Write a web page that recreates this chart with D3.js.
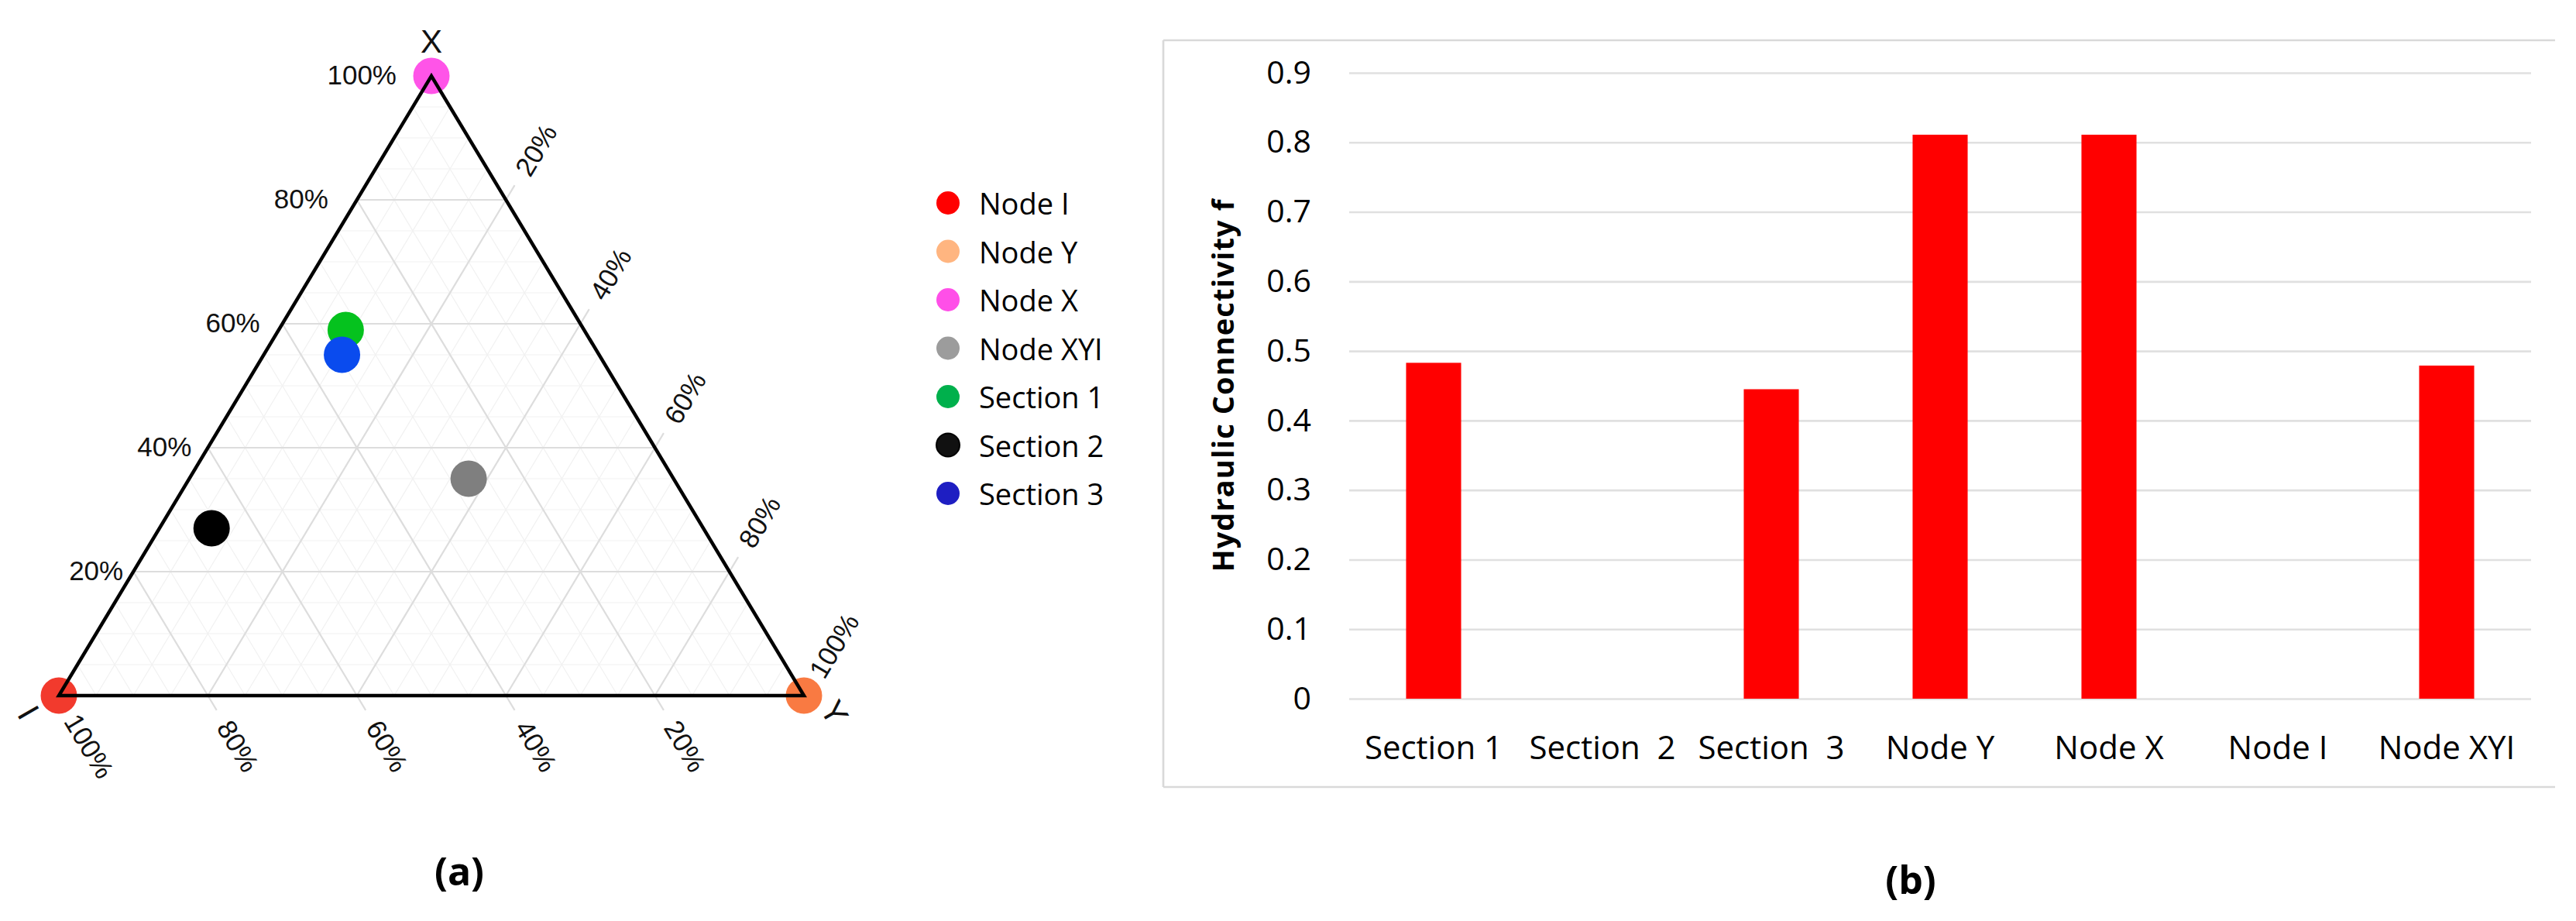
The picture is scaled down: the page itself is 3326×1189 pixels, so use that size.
<!DOCTYPE html>
<html><head><meta charset="utf-8">
<script src="https://cdn.jsdelivr.net/npm/d3@7"></script>
<style>
html,body{margin:0;padding:0;background:#fff;}
svg{display:block;}
</style></head><body>
<svg id="c" width="3326" height="1189"></svg>
<script>
// ---------------- Data ----------------
// Ternary diagram (a): compositions (X, Y, I fractions)
const ternNames = ["Node I","Node Y","Node X","Node XYI","Section 1","Section 2","Section 3"];
const ternX = [0, 0, 1, 0.35, 0.59, 0.27, 0.55];
const ternY = [0, 1, 0, 0.375, 0.09, 0.07, 0.105];
const ternI = [1, 0, 0, 0.275, 0.32, 0.66, 0.345];
const pointColors = ["#F23A2D","#F97A42","#FF54E8","#7F7F7F","#05C21E","#000000","#0A4BEE"];
const legendColors = ["#FF0000","#FFB580","#FF4FE8","#9C9C9C","#00B04C","#111111","#1E1EC2"];
const ternTicks = [0.2, 0.4, 0.6, 0.8, 1.0];
const ternTickLabels = ["20%","40%","60%","80%","100%"];
const ternAxisTitles = ["X","I","Y"];

// Bar chart (b)
const barCategories = ["Section 1","Section  2","Section  3","Node Y","Node X","Node I","Node XYI"];
const barValues = [0.483, 0, 0.445, 0.811, 0.811, 0, 0.479];
const yTicks = [0, 0.1, 0.2, 0.3, 0.4, 0.5, 0.6, 0.7, 0.8, 0.9];
const yTickLabels = ["0","0.1","0.2","0.3","0.4","0.5","0.6","0.7","0.8","0.9"];
const yTitle = "Hydraulic Connectivity f";
const captions = ["(a)","(b)"];

// ---------------- Setup ----------------
const svg = d3.select("#c");
svg.append("rect").attr("width",3326).attr("height",1189).attr("fill","#fff");

// ---------------- Ternary ----------------
const horiz = d3.scaleLinear().domain([0,1]).range([76,1038]);
const vert = d3.scaleLinear().domain([0,1]).range([898,98]);
function tp(X,Y,I){ const s=X+Y+I; X/=s; Y/=s; return [horiz(Y + X/2), vert(X)]; }

const gT = svg.append("g");
const BL = tp(0,0,1), BR = tp(0,1,0), TOP = tp(1,0,0);
const sideLen = Math.hypot(TOP[0]-BL[0], TOP[1]-BL[1]);
const upDir = [(TOP[0]-BL[0])/sideLen, (TOP[1]-BL[1])/sideLen];   // up-right
const downDir = [(BR[0]-TOP[0])/sideLen, (BR[1]-TOP[1])/sideLen]; // down-right

function gridLines(vals, color, width){
  vals.forEach(v=>{
    const segs = [
      [tp(v,0,1-v), tp(v,1-v,0)],
      [tp(0,v,1-v), tp(1-v,v,0)],
      [tp(0,1-v,v), tp(1-v,0,v)]
    ];
    segs.forEach(s=>{
      gT.append("line").attr("x1",s[0][0]).attr("y1",s[0][1]).attr("x2",s[1][0]).attr("y2",s[1][1])
        .attr("stroke",color).attr("stroke-width",width);
    });
  });
}
const minor = d3.range(1,20).map(k=>k*0.05).filter(v=>Math.abs(v*5-Math.round(v*5))>1e-6);
gridLines(minor, "#f1f1f1", 1.2);
gridLines([0.2,0.4,0.6,0.8], "#dddddd", 2.2);

// outward ticks (bottom and right)
ternTicks.slice(0,4).forEach(v=>{
  const pb = tp(0,1-v,v);
  gT.append("line").attr("x1",pb[0]).attr("y1",pb[1]).attr("x2",pb[0]+downDir[0]*22).attr("y2",pb[1]+downDir[1]*22)
    .attr("stroke","#dddddd").attr("stroke-width",2.2);
  const pr = tp(1-v,v,0);
  gT.append("line").attr("x1",pr[0]).attr("y1",pr[1]).attr("x2",pr[0]+upDir[0]*22).attr("y2",pr[1]+upDir[1]*22)
    .attr("stroke","#dddddd").attr("stroke-width",2.2);
});

// points
ternNames.forEach((n,i)=>{
  const p = tp(ternX[i], ternY[i], ternI[i]);
  gT.append("circle").attr("cx",p[0]).attr("cy",p[1]).attr("r",23.5).attr("fill",pointColors[i]);
});

// border
gT.append("path").attr("d",`M${BL[0]},${BL[1]}L${BR[0]},${BR[1]}L${TOP[0]},${TOP[1]}Z`)
  .attr("fill","none").attr("stroke","#000").attr("stroke-width",4.5).attr("stroke-linejoin","miter");

const tFont = "'Liberation Sans', Arial, sans-serif";
// left labels (X axis)
ternTicks.forEach((v,k)=>{
  const p = tp(v,0,1-v);
  gT.append("text").attr("x",p[0]-(5+40*v)).attr("y",p[1]-2)
    .attr("text-anchor","end").attr("dominant-baseline","central")
    .attr("font-family",tFont).attr("font-size",35).attr("fill","#111").text(ternTickLabels[k]);
});
// bottom labels (I axis)
ternTicks.forEach((v,k)=>{
  const p = tp(0,1-v,v);
  const cx = p[0]+downDir[0]*76, cy = p[1]+downDir[1]*76;
  const ang = Math.atan2(downDir[1],downDir[0])*180/Math.PI;
  gT.append("text").attr("transform",`translate(${cx},${cy}) rotate(${ang})`)
    .attr("text-anchor","middle").attr("dominant-baseline","central")
    .attr("font-family",tFont).attr("font-size",35).attr("fill","#111").text(ternTickLabels[k]);
});
// right labels (Y axis)
ternTicks.forEach((v,k)=>{
  const p = tp(1-v,v,0);
  const cx = p[0]+upDir[0]*75, cy = p[1]+upDir[1]*75;
  const ang = Math.atan2(upDir[1],upDir[0])*180/Math.PI;
  gT.append("text").attr("transform",`translate(${cx},${cy}) rotate(${ang})`)
    .attr("text-anchor","middle").attr("dominant-baseline","central")
    .attr("font-family",tFont).attr("font-size",35).attr("fill","#111").text(ternTickLabels[k]);
});
// axis titles
const centroid = [(BL[0]+BR[0]+TOP[0])/3, (BL[1]+BR[1]+TOP[1])/3];
const vtx = [TOP, BL, BR];
vtx.forEach((v,k)=>{
  const dx = v[0]-centroid[0], dy = v[1]-centroid[1], L = Math.hypot(dx,dy);
  const cx = v[0]+dx/L*45, cy = v[1]+dy/L*45;
  const rot = k===0 ? 0 : 60;
  gT.append("text").attr("transform",`translate(${cx},${cy}) rotate(${rot})`)
    .attr("text-anchor","middle").attr("dominant-baseline","central")
    .attr("font-family",tFont).attr("font-size",42).attr("fill","#111").text(ternAxisTitles[k]);
});

// legend
const lFont = "'Open Sans', sans-serif";
const gL = svg.append("g");
ternNames.forEach((n,i)=>{
  const y = 262 + i*62.5;
  gL.append("circle").attr("cx",1224).attr("cy",y).attr("r",15).attr("fill",legendColors[i])
    .attr("stroke", i===5 ? "#000" : "none").attr("stroke-width",2);
  gL.append("text").attr("x",1264).attr("y",y).attr("dominant-baseline","central")
    .attr("font-family",lFont).attr("font-size",38).attr("fill","#000").text(n);
});

// ---------------- Bar chart ----------------
const gB = svg.append("g");
const frameC = "#d9d9d9";
gB.append("line").attr("x1",1502).attr("y1",52).attr("x2",3299).attr("y2",52).attr("stroke",frameC).attr("stroke-width",2.7);
gB.append("line").attr("x1",1502).attr("y1",1016).attr("x2",3299).attr("y2",1016).attr("stroke",frameC).attr("stroke-width",2.7);
gB.append("line").attr("x1",1502).attr("y1",52).attr("x2",1502).attr("y2",1016).attr("stroke",frameC).attr("stroke-width",2.7);

const xB = d3.scaleBand().domain(barCategories).range([1742,3268]).paddingInner(0.674).paddingOuter(0.337);
const yB = d3.scaleLinear().domain([0,0.9]).range([902,94]);

const yAx = gB.append("g").attr("transform","translate(1742,0)")
  .call(d3.axisLeft(yB).tickValues(yTicks).tickSize(-(3268-1742)).tickPadding(49)
    .tickFormat((d,i)=>yTickLabels[i]));
yAx.select(".domain").remove();
yAx.selectAll("line").attr("stroke","#e0e0e0").attr("stroke-width",2.6);
yAx.selectAll("text").attr("font-family",lFont).attr("font-size",41).attr("fill","#000");

gB.selectAll("rect.bar").data(barValues).enter().append("rect").attr("class","bar")
  .attr("x",(d,i)=>xB(barCategories[i])).attr("width",xB.bandwidth())
  .attr("y",d=>yB(d)).attr("height",d=>yB(0)-yB(d)).attr("fill","#FF0000");

const xAx = gB.append("g").attr("transform","translate(0,902)")
  .call(d3.axisBottom(xB).tickSize(0).tickPadding(48));
xAx.select(".domain").remove();
xAx.selectAll("text").attr("font-family",lFont).attr("font-size",42).attr("fill","#000")
  .style("white-space","pre");

gB.append("text").attr("transform","translate(1578,498) rotate(-90)")
  .attr("text-anchor","middle").attr("dominant-baseline","central")
  .attr("font-family",lFont).attr("font-weight","bold").attr("font-size",38)
  .attr("textLength",481).attr("lengthAdjust","spacing").attr("fill","#000").text(yTitle);

// captions
svg.append("text").attr("x",593).attr("y",1124).attr("text-anchor","middle").attr("dominant-baseline","central")
  .attr("font-family",lFont).attr("font-weight","bold").attr("font-size",50).attr("fill","#000").text(captions[0]);
svg.append("text").attr("x",2467).attr("y",1135).attr("text-anchor","middle").attr("dominant-baseline","central")
  .attr("font-family",lFont).attr("font-weight","bold").attr("font-size",50).attr("fill","#000").text(captions[1]);
</script>
</body></html>
